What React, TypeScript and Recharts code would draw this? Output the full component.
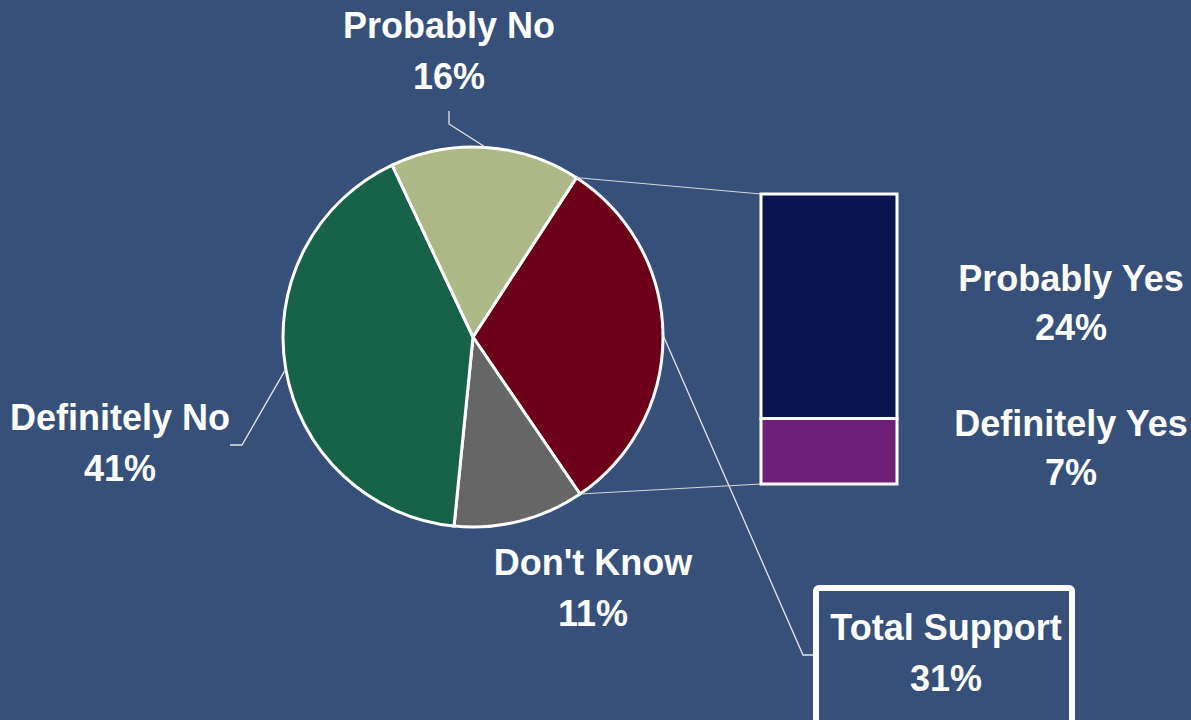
import { PieChart, Pie, Cell, BarChart, Bar, XAxis, YAxis, LabelList } from "recharts";

// pie slices, clockwise from the top-right edge
const sliceNames = ["Total Support", "Don't Know", "Definitely No", "Probably No"];
const sliceValues = [31, 11, 41, 16];
const sliceColors = ["#6c0019", "#666666", "#17634a", "#aeb886"];

// breakdown of "Total Support", bottom to top
const supportNames = ["Definitely Yes", "Probably Yes"];
const supportValues = [7, 24];
const supportColors = ["#6e1f78", "#0a144e"];

const BG = "#36507a";
const FONT = "'Liberation Sans', Arial, sans-serif";
const PIE_CX = 473;
const PIE_CY = 337;
const PIE_R = 190;

// bar plot area on the page
const BAR_LEFT = 761;
const BAR_RIGHT = 897;
const BAR_TOP = 194;
const BAR_BOTTOM = 484;

const pieData = sliceNames.map((name, i) => ({ name, value: sliceValues[i] }));

const supportRow: Record<string, any> = { name: "Total Support" };
supportNames.forEach((n, i) => {
  supportRow[n] = supportValues[i];
});

// text placement relative to pie centre; elbow = leader line bend, end = leader tip
const labelLayout: Record<string, any> = {
  "Probably No": { dx: -24, dy: -299, elbow: [-24, -213], end: [-24, -226] },
  "Definitely No": { dx: -353, dy: 93, elbow: [-231, 108], end: [-243, 108] },
  "Don't Know": { dx: 120, dy: 238 },
  "Total Support": { dx: 473, dy: 303, elbow: [330, 318], end: [340, 318], box: true },
};

const RADIAN = Math.PI / 180;

const textStyle = {
  fontFamily: FONT,
  fontWeight: 700,
  fontSize: 36,
};

const renderPieLabel = (props: any) => {
  const { cx, cy, midAngle, outerRadius, startAngle, endAngle, payload } = props;
  const name = payload.name;
  const lay = labelLayout[name];
  const tx = cx + lay.dx;
  const ty = cy + lay.dy;
  const parts: any[] = [];

  if (lay.elbow) {
    const sx = cx + outerRadius * Math.cos(-RADIAN * midAngle);
    const sy = cy + outerRadius * Math.sin(-RADIAN * midAngle);
    parts.push(
      <path
        key="leader"
        d={`M${sx},${sy}L${cx + lay.elbow[0]},${cy + lay.elbow[1]}L${cx + lay.end[0]},${cy + lay.end[1]}`}
        stroke="#e6e6e6"
        strokeWidth={1.3}
        fill="none"
      />
    );
  }

  if (lay.box) {
    parts.push(
      <rect
        key="box"
        x={816}
        y={588}
        width={256}
        height={170}
        rx={3}
        fill="none"
        stroke="#ffffff"
        strokeWidth={6}
      />
    );
    // connectors from the slice edges to the bar
    const ax = cx + outerRadius * Math.cos(-RADIAN * startAngle);
    const ay = cy + outerRadius * Math.sin(-RADIAN * startAngle);
    const bx = cx + outerRadius * Math.cos(-RADIAN * endAngle);
    const by = cy + outerRadius * Math.sin(-RADIAN * endAngle);
    parts.push(
      <line key="c1" x1={ax} y1={ay} x2={BAR_LEFT} y2={BAR_TOP} stroke="#d9d9d9" strokeWidth={1} />,
      <line key="c2" x1={bx} y1={by} x2={BAR_LEFT} y2={BAR_BOTTOM} stroke="#d9d9d9" strokeWidth={1} />
    );
  }

  parts.push(
    <text key="t1" x={tx} y={ty} textAnchor="middle" fill="#ffffff" style={textStyle}>
      {name}
    </text>,
    <text key="t2" x={tx} y={ty + 51} textAnchor="middle" fill="#ffffff" style={textStyle}>
      {`${payload.value}%`}
    </text>
  );

  return <g>{parts}</g>;
};

const makeBarLabel = (name: string) => (props: any) => {
  const { x, y, width, height, value } = props;
  const lx = x + width + 174;
  const my = y + height / 2;
  return (
    <g>
      <text x={lx} y={my - 15} textAnchor="middle" fill="#ffffff" style={textStyle}>
        {name}
      </text>
      <text x={lx} y={my + 34} textAnchor="middle" fill="#ffffff" style={textStyle}>
        {`${value}%`}
      </text>
    </g>
  );
};

const BAR_SVG_LEFT = 700;

export default function App() {
  return (
    <div
      style={{
        position: "absolute",
        top: 0,
        left: 0,
        width: 1191,
        height: 720,
        background: BG,
        overflow: "hidden",
      }}
    >
      <div style={{ position: "absolute", top: 0, left: 0 }}>
        <PieChart width={1191} height={720} margin={{ top: 0, right: 0, bottom: 0, left: 0 }}>
          <Pie
            data={pieData}
            dataKey="value"
            nameKey="name"
            cx={PIE_CX}
            cy={PIE_CY}
            outerRadius={PIE_R}
            startAngle={57}
            endAngle={-303}
            stroke="#ffffff"
            strokeWidth={3}
            label={renderPieLabel}
            labelLine={false}
            isAnimationActive={false}
          >
            {pieData.map((entry, index) => (
              <Cell key={`cell-${index}`} fill={sliceColors[index]} />
            ))}
          </Pie>
        </PieChart>
      </div>
      <div style={{ position: "absolute", top: 0, left: BAR_SVG_LEFT }}>
        <BarChart
          width={1191 - BAR_SVG_LEFT}
          height={720}
          data={[supportRow]}
          margin={{
            top: BAR_TOP,
            bottom: 720 - BAR_BOTTOM,
            left: BAR_LEFT - BAR_SVG_LEFT,
            right: 1191 - BAR_SVG_LEFT - (BAR_RIGHT - BAR_SVG_LEFT),
          }}
          barCategoryGap={0}
        >
          <XAxis dataKey="name" hide />
          <YAxis hide domain={[0, 31]} />
          {supportNames.map((n, i) => (
            <Bar
              key={n}
              dataKey={n}
              stackId="s"
              fill={supportColors[i]}
              stroke="#ffffff"
              strokeWidth={3}
              isAnimationActive={false}
            >
              <LabelList dataKey={n} content={makeBarLabel(n)} />
            </Bar>
          ))}
        </BarChart>
      </div>
    </div>
  );
}
